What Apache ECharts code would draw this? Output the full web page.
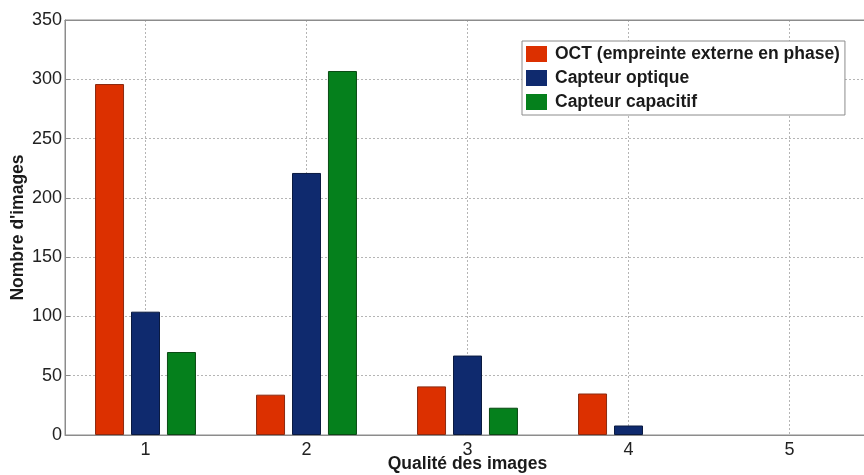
<!DOCTYPE html>
<html>
<head>
<meta charset="utf-8">
<script src="https://cdn.jsdelivr.net/npm/echarts@6/dist/echarts.min.js"></script>
<style>
  html, body { margin: 0; padding: 0; background: #fff; }
  #chart { width: 864px; height: 475px; }
</style>
</head>
<body>
<div id="chart"></div>
<script>
const categories = ['1', '2', '3', '4', '5'];
const octValues = [296, 34, 41, 35, 0];
const optiqueValues = [104, 221, 67, 8, 0];
const capacitifValues = [70, 307, 23, 0, 0];
const yTicks = [0, 50, 100, 150, 200, 250, 300, 350];

// zero-height bars: no outline (they vanish in the reference)
const toBarData = (arr) => arr.map(v => v === 0 ? { value: v, itemStyle: { borderWidth: 0 } } : v);
const barStyle = (fill, border) => ({ color: fill, borderColor: border, borderWidth: 1 });

const axisGrey = '#8c8c8c';
const gridLine = { show: true, lineStyle: { color: '#b5b5b5', type: [2, 2] } };

const getOption = () => {
  return {
    animation: false,
    textStyle: { fontFamily: 'Liberation Sans, Arial, sans-serif' },
    grid: {
      left: 65, width: 805, top: 20, bottom: 40,
      outerBoundsMode: 'none',
      show: true, borderColor: axisGrey, borderWidth: 1
    },
    legend: {
      orient: 'vertical',
      left: 522, top: 41,
      padding: [4, 5, 4, 4],
      itemWidth: 21, itemHeight: 16, itemGap: 6,
      backgroundColor: '#fff',
      borderColor: axisGrey, borderWidth: 1,
      icon: 'rect',
      itemStyle: { borderWidth: 0 },
      textStyle: { fontSize: 17.5, fontWeight: 'bold', color: '#1a1a1a', padding: [0, 0, 0, 3] },
      data: ['OCT (empreinte externe en phase)', 'Capteur optique', 'Capteur capacitif']
    },
    xAxis: [
      {
        type: 'category',
        data: categories,
        name: 'Qualité des images',
        nameLocation: 'middle',
        nameGap: 20,
        nameMoveOverlap: false,
        nameTextStyle: { fontSize: 17.5, fontWeight: 'bold', color: '#1a1a1a' },
        axisLine: { lineStyle: { color: axisGrey } },
        axisTick: { inside: true, alignWithLabel: true, length: 5, lineStyle: { color: axisGrey } },
        axisLabel: { fontSize: 18, color: '#222', margin: 6 },
        splitLine: Object.assign({ alignWithLabel: true }, gridLine)
      },
      {
        type: 'category',
        data: categories,
        position: 'top',
        axisLine: { lineStyle: { color: axisGrey } },
        axisTick: { inside: true, alignWithLabel: true, length: 5, lineStyle: { color: axisGrey } },
        axisLabel: { show: false },
        splitLine: { show: false }
      }
    ],
    yAxis: {
      type: 'value',
      min: yTicks[0], max: yTicks[yTicks.length - 1], interval: 50,
      name: "Nombre d'images",
      nameLocation: 'middle',
      nameGap: 38,
      nameMoveOverlap: false,
      nameTextStyle: { fontSize: 17.5, fontWeight: 'bold', color: '#1a1a1a' },
      axisLine: { show: true, lineStyle: { color: axisGrey } },
      axisTick: { show: true, inside: true, length: 5, lineStyle: { color: axisGrey } },
      axisLabel: { fontSize: 18, color: '#222', margin: 3 },
      splitLine: gridLine
    },
    series: [
      {
        name: 'OCT (empreinte externe en phase)', type: 'bar', data: toBarData(octValues),
        barWidth: 29, barGap: '24%', itemStyle: barStyle('#dc3000', '#8a2a10')
      },
      {
        name: 'Capteur optique', type: 'bar', data: toBarData(optiqueValues),
        barWidth: 29, barGap: '24%', itemStyle: barStyle('#0f2a6e', '#0a1a40')
      },
      {
        name: 'Capteur capacitif', type: 'bar', data: toBarData(capacitifValues),
        barWidth: 29, barGap: '24%', itemStyle: barStyle('#05801c', '#0a4a14')
      }
    ]
  };
};

const initCharts = () => {
  const chart = echarts.init(document.getElementById('chart'));
  chart.setOption(getOption());
};

window.addEventListener('load', () => {
  initCharts();
});
</script>
</body>
</html>
